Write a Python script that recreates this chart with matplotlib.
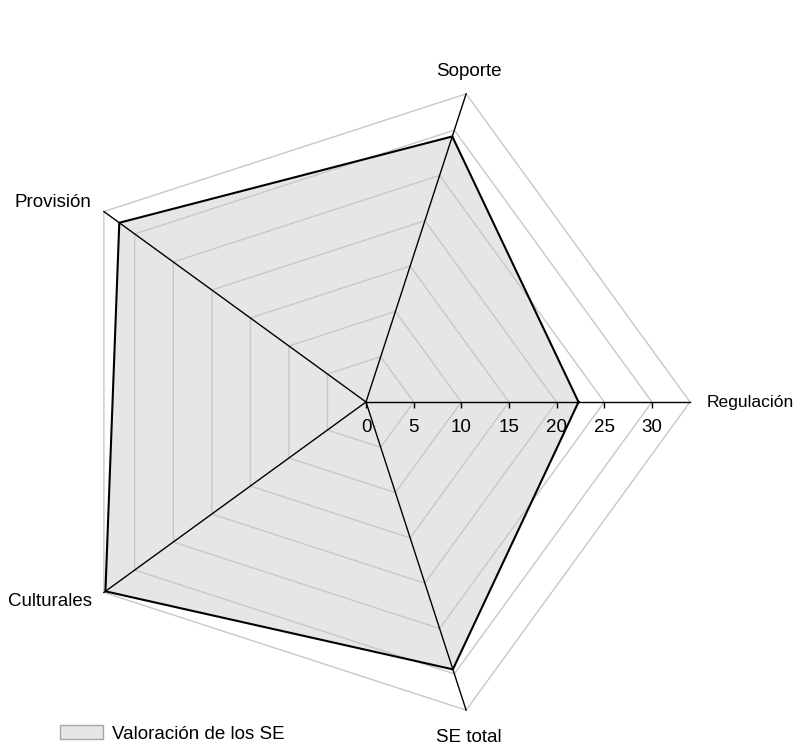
import numpy as np
import matplotlib
matplotlib.use("Agg")
import matplotlib.pyplot as plt

plt.rcParams['font.family'] = ['Liberation Sans', 'DejaVu Sans']

categories = ["Regulación", "Soporte", "Provisión", "Culturales", "SE total"]
values = [22.3, 29.3, 32.0, 33.8, 29.5]
series_label = "Valoración de los SE"
ring_levels = [5, 10, 15, 20, 25, 30, 34]
tick_values = [0, 5, 10, 15, 20, 25, 30]
r_max = 34
FS = 13.5

W, H = 797, 755
fig = plt.figure(figsize=(W / 100, H / 100), dpi=100)
cx, cy, rad = 366, 402, 324
ax = fig.add_axes([(cx - rad) / W, (H - cy - rad) / H, 2 * rad / W, 2 * rad / H],
                  projection='polar')
ax.set_ylim(0, r_max)
ax.grid(False)
ax.spines['polar'].set_visible(False)
ax.set_xticks([])
ax.set_yticks([])
ax.patch.set_visible(False)

n = len(categories)
theta = np.deg2rad(np.arange(n) * 360 / n)
theta_closed = np.append(theta, theta[0])

# polygonal grid rings
for lvl in ring_levels:
    ax.plot(theta_closed, [lvl] * (n + 1), color='#c8c8c8', lw=1.0, zorder=1,
            clip_on=False)

# data polygon
vals_closed = values + values[:1]
ax.fill(theta_closed, vals_closed, facecolor='#e6e6e6', edgecolor='none',
        zorder=0, label=series_label)
ax.plot(theta_closed, vals_closed, color='black', lw=1.5, zorder=3, clip_on=False)

# spokes
for t in theta:
    ax.plot([t, t], [0, r_max], color='black', lw=1.0, zorder=4, clip_on=False)

# value ticks along the first spoke
ax.plot([0] * len(tick_values), tick_values, linestyle='none', marker=3,
        markersize=4, color='black', mew=1.0, zorder=4, clip_on=False)
for tv in tick_values:
    ax.annotate(str(tv), xy=(0, tv), xytext=(0, -12), textcoords='offset points',
                ha='center', va='top', fontsize=FS, color='black')

# category labels: angle, radius, alignment, size
label_pos = {
    "Regulación": (0, 35.7, 'left', 'center', 12.6),
    "Soporte": (72.7, 36.3, 'center', 'center', FS),
    "Provisión": (144, 35.6, 'right', 'center', FS),
    "Culturales": (216, 35.6, 'right', 'center', FS),
    "SE total": (287, 36.8, 'center', 'center', FS),
}
for name in categories:
    ang, r, ha, va, fs = label_pos[name]
    ax.text(np.deg2rad(ang), r, name, ha=ha, va=va, fontsize=fs, color='black',
            clip_on=False)

fill_handle = plt.Rectangle((0, 0), 1, 1, facecolor='#e6e6e6', edgecolor='#a6a6a6',
                            lw=1.0)
fig.legend([fill_handle], [series_label], loc='center left',
           bbox_to_anchor=(60 / W, 1 - 734 / H), frameon=False, borderpad=0,
           borderaxespad=0, handlelength=2.3, handleheight=0.75,
           handletextpad=0.48, fontsize=FS)

fig.savefig("out.png", dpi=100)
